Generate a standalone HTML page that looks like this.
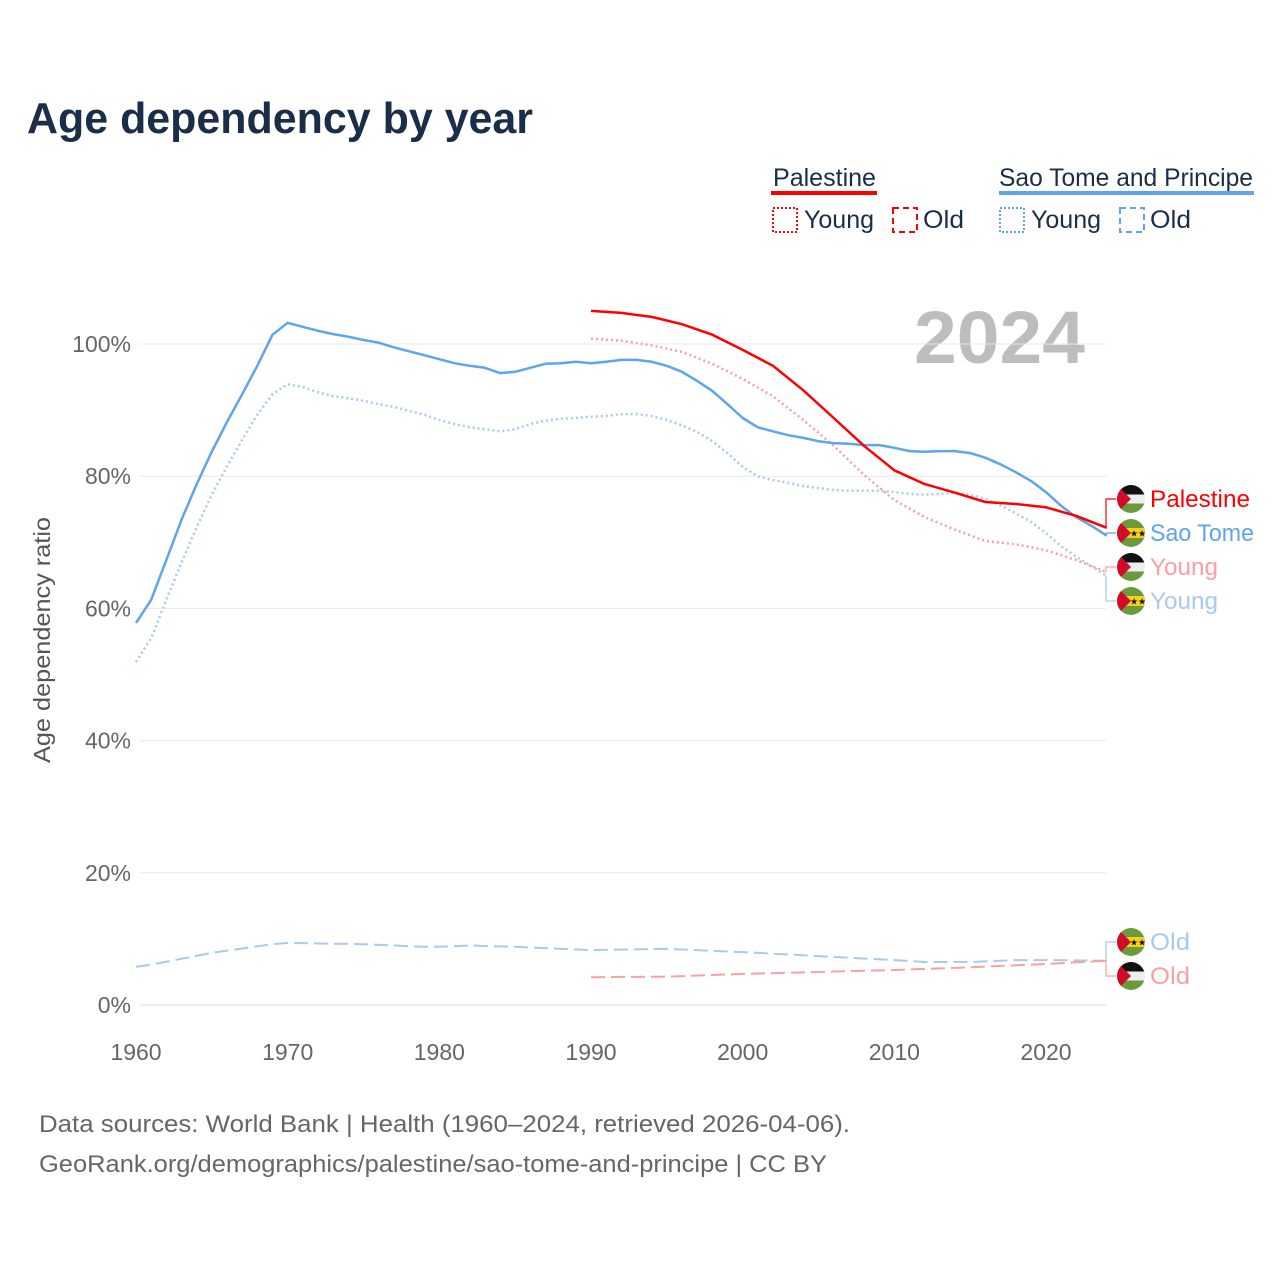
<!DOCTYPE html>
<html><head><meta charset="utf-8"><style>
body{margin:0;background:#fff;font-family:"Liberation Sans",sans-serif}
svg text{font-family:"Liberation Sans",sans-serif}
</style></head><body>
<svg id="chart" width="1280" height="1280" viewBox="0 0 1280 1280" xmlns="http://www.w3.org/2000/svg">
<defs>
<clipPath id="cc"><circle cx="0" cy="0" r="14"/></clipPath>
<g id="flagPS"><g clip-path="url(#cc)"><rect x="-14" y="-14" width="28" height="10" fill="#111"/><rect x="-14" y="-4.5" width="28" height="9" fill="#eee"/><rect x="-14" y="4.5" width="28" height="10" fill="#6a9a3a"/><polygon points="-14,-14 0,0 -14,14" fill="#d00c2a"/></g></g>
<g id="flagST"><g clip-path="url(#cc)"><rect x="-14" y="-14" width="28" height="28" fill="#6a9a3a"/><rect x="-14" y="-5" width="28" height="10" fill="#f5d020"/><polygon points="-14,-14 0,0 -14,14" fill="#d00c2a"/><text x="7" y="3.5" font-size="9" text-anchor="middle" fill="#111">★★</text></g></g>
</defs>
<text x="27" y="133" font-size="44" font-weight="bold" fill="#1a2e4a" textLength="506" lengthAdjust="spacingAndGlyphs">Age dependency by year</text>
<g fill="#1a2e4a" font-size="25">
<text x="773" y="186" textLength="103" lengthAdjust="spacingAndGlyphs">Palestine</text>
<rect x="771" y="191" width="106" height="4" fill="#f00"/>
<rect x="773" y="208" width="24" height="24" fill="none" stroke="#f00" stroke-width="2" stroke-dasharray="2,2"/>
<text x="804" y="228" textLength="70" lengthAdjust="spacingAndGlyphs">Young</text>
<rect x="893" y="208" width="24" height="24" fill="none" stroke="#f00" stroke-width="2" stroke-dasharray="6,4"/>
<text x="923" y="228" textLength="41" lengthAdjust="spacingAndGlyphs">Old</text>
<text x="999" y="186" textLength="254" lengthAdjust="spacingAndGlyphs">Sao Tome and Principe</text>
<rect x="999" y="191" width="255" height="4" fill="#5ea5ec"/>
<rect x="1000" y="208" width="24" height="24" fill="none" stroke="#5ea5ec" stroke-width="2" stroke-dasharray="2,2"/>
<text x="1031" y="228" textLength="70" lengthAdjust="spacingAndGlyphs">Young</text>
<rect x="1120" y="208" width="24" height="24" fill="none" stroke="#5ea5ec" stroke-width="2" stroke-dasharray="6,4"/>
<text x="1150" y="228" textLength="41" lengthAdjust="spacingAndGlyphs">Old</text>
</g>
<text x="1085" y="363" font-size="74" font-weight="bold" fill="#bdbdbd" text-anchor="end" textLength="171" lengthAdjust="spacingAndGlyphs">2024</text>
<g id="grid"></g><g id="series"></g><g id="labels"></g>
<text transform="translate(50,640) rotate(-90)" font-size="23" fill="#555" text-anchor="middle" textLength="246" lengthAdjust="spacingAndGlyphs">Age dependency ratio</text>
<text x="39" y="1132" font-size="24" fill="#666" textLength="811" lengthAdjust="spacingAndGlyphs">Data sources: World Bank | Health (1960–2024, retrieved 2026-04-06).</text>
<text x="39" y="1172" font-size="24" fill="#666" textLength="788" lengthAdjust="spacingAndGlyphs">GeoRank.org/demographics/palestine/sao-tome-and-principe | CC BY</text>
</svg>
<script>
const yTicks=[0,20,40,60,80,100];
const xTicks=[1960,1970,1980,1990,2000,2010,2020];
const stYears=[1960,1961,1962,1963,1964,1965,1966,1967,1968,1969,1970,1971,1972,1973,1974,1975,1976,1977,1978,1979,1980,1981,1982,1983,1984,1985,1986,1987,1988,1989,1990,1991,1992,1993,1994,1995,1996,1997,1998,1999,2000,2001,2002,2003,2004,2005,2006,2007,2008,2009,2010,2011,2012,2013,2014,2015,2016,2017,2018,2019,2020,2021,2022,2023,2024];
const stTotal=[57.8,61.3,67.3,73.4,78.8,83.7,88.2,92.4,96.7,101.4,103.2,102.6,102,101.5,101.1,100.6,100.2,99.5,98.9,98.3,97.7,97.1,96.7,96.4,95.6,95.8,96.4,97,97.1,97.3,97.1,97.3,97.6,97.6,97.3,96.7,95.8,94.4,92.9,90.9,88.8,87.4,86.8,86.2,85.8,85.3,85,84.9,84.7,84.7,84.3,83.8,83.7,83.8,83.8,83.5,82.8,81.8,80.6,79.3,77.6,75.5,73.8,72.5,71];
const stYoung=[51.9,55.5,61.3,66.9,72.3,77.2,81.5,85.5,89.3,92.4,93.9,93.5,92.7,92.1,91.8,91.4,90.9,90.5,89.9,89.3,88.5,87.9,87.4,87.1,86.8,87.1,87.9,88.4,88.7,88.8,89,89.1,89.4,89.4,89.1,88.5,87.7,86.7,85.3,83.5,81.4,80,79.4,79,78.5,78.2,77.9,77.8,77.8,77.8,77.6,77.3,77.2,77.3,77.5,77.2,76.6,75.6,74.4,73.1,71.4,69.4,67.8,66.4,64.9];
const stOldYears=[1960,1961,1965,1969,1970,1975,1979,1980,1982,1985,1990,1995,2000,2005,2010,2012,2015,2018,2020,2024];
const stOld=[5.8,6.1,7.9,9.2,9.4,9.2,8.8,8.8,9.0,8.8,8.3,8.5,8.0,7.4,6.8,6.5,6.5,6.8,6.8,6.7];
const psYears=[1990,1992,1994,1996,1998,2000,2002,2004,2006,2008,2010,2012,2014,2016,2018,2020,2022,2024];
const psTotal=[105,104.7,104.1,103,101.4,99.1,96.7,93,88.8,84.6,80.9,78.8,77.5,76.1,75.8,75.3,74,72.2];
const psYoung=[100.8,100.5,99.8,98.8,97,94.7,92.1,88.5,84.6,80.2,76.4,73.8,71.9,70.2,69.7,68.8,67.3,65.5];
const psOldYears=[1990,1995,2000,2005,2010,2015,2020,2024];
const psOld=[4.2,4.3,4.7,5.0,5.3,5.7,6.2,6.7];
const NS="http://www.w3.org/2000/svg";
const X=yr=>136+(yr-1960)*910/60;
const Y=v=>1005-v*6.61;
function mk(t,a,p){const e=document.createElementNS(NS,t);for(const k in a)e.setAttribute(k,a[k]);p.appendChild(e);return e;}
const grid=document.getElementById('grid');
yTicks.forEach(v=>{
 const l=mk('line',{x1:140,x2:1106,y1:Y(v),y2:Y(v),stroke:v===0?'#ddd':'#e8e8e8','stroke-width':1},grid);
 
 
 const t=mk('text',{x:131,y:Y(v)+8,'font-size':23,fill:'#666','text-anchor':'end'},grid);t.textContent=v+'%';
 
 
});
xTicks.forEach(v=>{
 const t=mk('text',{x:X(v),y:1060,'font-size':23,fill:'#666','text-anchor':'middle'},grid);t.textContent=v;
 
 
});
const ser=document.getElementById('series');
function line(xs,vs,color,w,dash,name){
 const d=xs.map((x,i)=>(i?'L':'M')+X(x).toFixed(1)+','+Y(vs[i]).toFixed(1)).join('');
 const p=mk('path',{d:d,fill:'none',stroke:color,'stroke-width':w,'stroke-dasharray':dash,'stroke-linejoin':'round'},ser);
 
 
}
line(stOldYears,stOld,'#a8c9f0',2,'14,6','sao-tome-old-line');
line(psOldYears,psOld,'#f9a0a0',2,'14,6','palestine-old-line');
line(stYears,stYoung,'#a8c9f0',2.5,'2,3','sao-tome-young-line');
line(psYears,psYoung,'#f9a0a0',2.5,'2,3','palestine-young-line');
line(stYears,stTotal,'#5ea5ec',2.5,'','sao-tome-total-line');
line(psYears,psTotal,'#f00',2.5,'','palestine-total-line');
const lab=document.getElementById('labels');
const endX=X(2024);
const labs=[
 {y:499,v:psTotal[psTotal.length-1],c:'#f00',t:'Palestine',f:'flagPS',n:'label-palestine',w:100},
 {y:533,v:stTotal[stTotal.length-1],c:'#5ea5ec',t:'Sao Tome',f:'flagST',n:'label-sao-tome',w:104},
 {y:567,v:psYoung[psYoung.length-1],c:'#f9a0a0',t:'Young',f:'flagPS',n:'label-palestine-young',w:68},
 {y:601,v:stYoung[stYoung.length-1],c:'#a8c9f0',t:'Young',f:'flagST',n:'label-sao-tome-young',w:68},
 {y:942,v:stOld[stOld.length-1],c:'#a8c9f0',t:'Old',f:'flagST',n:'label-sao-tome-old',w:40},
 {y:976,v:psOld[psOld.length-1],c:'#f9a0a0',t:'Old',f:'flagPS',n:'label-palestine-old',w:40}];
labs.forEach(o=>{
 mk('path',{d:`M${endX},${Y(o.v)}L1106,${Y(o.v)}L1106,${o.y}L1116,${o.y}`,fill:'none',stroke:o.c,'stroke-width':1.2},lab);
 const u=mk('use',{href:'#'+o.f,x:1131,y:o.y},lab);
 
 
 const t=mk('text',{x:1150,y:o.y+8,'font-size':24,fill:o.c,textLength:o.w,lengthAdjust:'spacingAndGlyphs'},lab);t.textContent=o.t;
 
 
});
</script>
</body></html>
